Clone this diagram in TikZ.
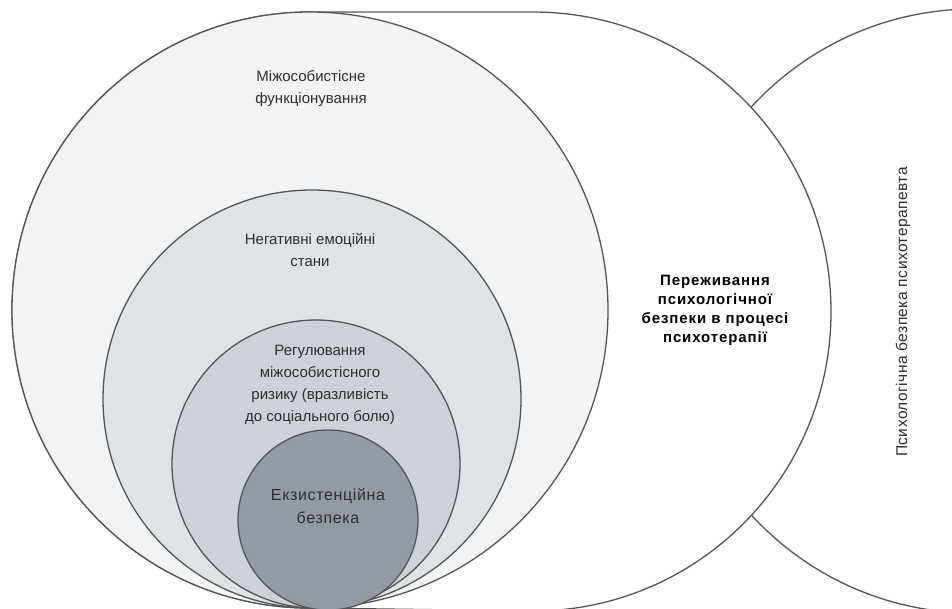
\documentclass[tikz,border=0pt]{standalone}
\usepackage{fontspec}
\setmainfont{Liberation Sans}
\definecolor{edge}{HTML}{555555}
\definecolor{ringA}{HTML}{F2F3F5}
\definecolor{ringB}{HTML}{DFE2E7}
\definecolor{ringC}{HTML}{CDD2D9}
\definecolor{ringD}{HTML}{939AA4}
\tikzset{
  ring/.style={circle,draw=edge,line width=1.3pt,inner sep=0pt},
  lbl/.style={align=center,text=black!82,font=\fontsize{15}{22}\selectfont},
  boldlbl/.style={align=center,text=black,font=\fontsize{15}{19}\selectfont\bfseries\addfontfeatures{LetterSpace=6}},
}
\begin{document}
\begin{tikzpicture}[x=1pt,y=-1pt]
\useasboundingbox (0,0) rectangle (952,608);
% therapist circle, behind the rest
\node[ring,fill=white,minimum size=604pt] (therapist) at (974,311) {};
% process shape
\draw[draw=edge,line width=1.3pt,fill=white] (310,12) -- (533,12) arc[start angle=-90,end angle=90,x radius=298,y radius=299.5] -- (310,608) arc[start angle=90,end angle=270,radius=298] -- cycle;
% nested circles
\node[ring,fill=ringA,minimum size=596pt] (inter) at (310,310) {};
\node[ring,fill=ringB,minimum size=418pt] (neg) at (312,399) {};
\node[ring,fill=ringC,minimum size=288pt] (risk) at (316,464) {};
\node[ring,fill=ringD,minimum size=180pt] (exist) at (328,520) {};
% labels
\node[lbl] (interlbl) at (311,89) {Міжособистісне\\функціонування};
\node[lbl] (neglbl) at (310,250) {Негативні емоційні\\стани};
\node[lbl] (risklbl) at (320,385) {Регулювання\\міжособистісного\\ризику (вразливість\\до соціального болю)};
\node[lbl,font=\fontsize{16}{23}\selectfont\addfontfeatures{LetterSpace=4}] (existlbl) at (328,506) {Екзистенційна\\безпека};
\node[boldlbl] (proclbl) at (715,310) {Переживання\\психологічної\\безпеки в процесі\\психотерапії};
\node[lbl,rotate=90,font=\fontsize{15.5}{20}\selectfont\addfontfeatures{LetterSpace=3}] (therlbl) at (903,312) {Психологічна безпека психотерапевта};
\end{tikzpicture}
\end{document}
